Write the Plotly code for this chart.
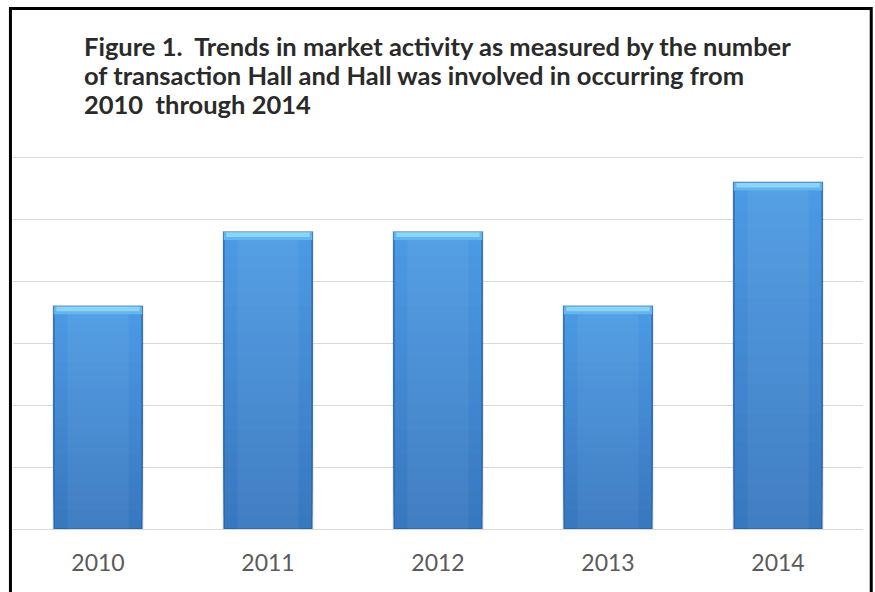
import plotly.graph_objects as go

# Number of transactions per year
years = ["2010", "2011", "2012", "2013", "2014"]
transactions = [18, 24, 24, 18, 28]

title_lines = [
    "Figure 1.  Trends in market activity as measured by the number",
    "of transaction Hall and Hall was involved in occurring from",
    "2010  through 2014",
]

FONT = "Lato, Liberation Sans Narrow, sans-serif"
BAR_W = 0.52
cap = 0.65      # height of the light bevel strip on each bar top
n_seg = 24      # vertical shading steps per bar
Y_MAX = 30.3


def mix(c1, c2, t):
    a = [int(c1[i:i + 2], 16) for i in (1, 3, 5)]
    b = [int(c2[i:i + 2], 16) for i in (1, 3, 5)]
    return "rgb({},{},{})".format(*[round(a[k] + (b[k] - a[k]) * t) for k in range(3)])


fig = go.Figure()

# Bar bodies: overlapping slices shading from darker bottom to lighter top
bottom_col, top_col = "#3878bf", "#4c9ae4"
for k in range(n_seg):
    t = k / (n_seg - 1)
    fig.add_trace(go.Bar(
        x=years,
        y=[v * (1 - k / n_seg) for v in transactions],
        base=[v * k / n_seg for v in transactions],
        width=BAR_W,
        marker=dict(color=mix(bottom_col, top_col, t), line=dict(width=0)),
        hoverinfo="skip", showlegend=False,
    ))

# Soft side edges and a gentle central highlight
fig.add_trace(go.Bar(
    x=years, y=transactions, width=BAR_W,
    marker=dict(color="rgba(0,0,0,0)", line=dict(width=2, color="rgba(35,80,135,0.45)")),
    hoverinfo="skip", showlegend=False,
))
fig.add_trace(go.Bar(
    x=years, y=transactions, width=0.36,
    marker=dict(color="rgba(255,255,255,0.05)", line=dict(width=0)),
    hoverinfo="skip", showlegend=False,
))

# Light bevel at the top of each bar
fig.add_trace(go.Bar(
    x=years, y=[cap] * len(years), base=[v - cap for v in transactions],
    width=BAR_W, marker=dict(color="#62b5ee", line=dict(width=0)),
    hoverinfo="skip", showlegend=False,
))
fig.add_trace(go.Bar(
    x=years, y=[cap * 0.55] * len(years), base=[v - cap * 0.62 for v in transactions],
    width=BAR_W - 0.03, marker=dict(color="#8cd5f8", line=dict(width=0)),
    hoverinfo="skip", showlegend=False,
))

# Title, one annotation per line
title_y = [1.289, 1.211, 1.133]
annotations = [
    dict(text="<b>" + line + "</b>", xref="paper", yref="paper",
         x=0.081, y=y, xanchor="left", yanchor="middle", align="left",
         showarrow=False, font=dict(family=FONT, size=25.5, color="#2a2a2a"))
    for line, y in zip(title_lines, title_y)
]

fig.update_layout(
    barmode="overlay",
    width=875, height=592,
    margin=dict(l=13, r=12, t=154, b=63),
    paper_bgcolor="white", plot_bgcolor="white",
    xaxis=dict(
        showgrid=False, zeroline=False, showline=False,
        tickfont=dict(family=FONT, size=23, color="#5a5a5a"),
        ticklabelstandoff=18,
    ),
    yaxis=dict(
        range=[0, Y_MAX], tickvals=[0, 5, 10, 15, 20, 25, 30], showticklabels=False,
        showgrid=True, gridcolor="#d9d9d9", gridwidth=1,
        zeroline=True, zerolinecolor="#d9d9d9", zerolinewidth=1,
    ),
    annotations=annotations,
    shapes=[dict(
        type="rect", xref="paper", yref="paper",
        x0=-0.003, x1=1.0097, y0=-0.2, y1=1.388,
        line=dict(color="black", width=3), fillcolor="rgba(0,0,0,0)",
        layer="above",
    )],
)

fig.write_html("out.html")
